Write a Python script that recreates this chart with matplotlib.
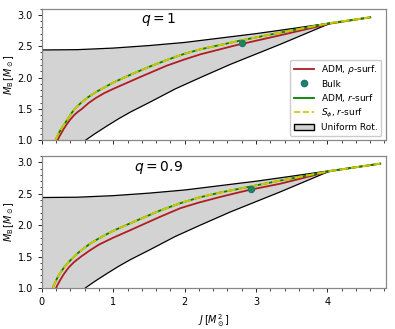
import numpy as np
import matplotlib
matplotlib.use("Agg")
import matplotlib.pyplot as plt
from matplotlib.patches import Patch
from matplotlib.lines import Line2D
from matplotlib.ticker import MultipleLocator

# uniform rotation region (same in both panels)
J_up = [0.0, 0.5, 1.0, 1.5, 2.0, 2.5, 3.0, 3.5, 4.05]
M_up = [2.44, 2.445, 2.47, 2.51, 2.56, 2.63, 2.70, 2.78, 2.87]
J_low = [0.61, 0.68, 0.75, 0.9, 1.07, 1.24, 1.5, 1.87, 2.22, 2.64, 3.34, 4.05]
M_low = [1.0, 1.055, 1.11, 1.22, 1.34, 1.45, 1.60, 1.82, 2.0, 2.21, 2.53, 2.87]

# q = 1
J_rho_1 = [0.22, 0.24, 0.27, 0.30, 0.34, 0.39, 0.45, 0.5, 0.56, 0.65, 0.75, 0.87, 1.0,
           1.2, 1.4, 1.75, 2.0, 2.22, 2.7, 3.4, 4.04, 4.6]
M_rho_1 = [1.0, 1.05, 1.11, 1.17, 1.24, 1.32, 1.40, 1.45, 1.5, 1.59, 1.67, 1.75, 1.82,
           1.92, 2.02, 2.19, 2.29, 2.37, 2.51, 2.69, 2.86, 2.96]
J_r_1 = [0.19, 0.21, 0.24, 0.27, 0.30, 0.34, 0.38, 0.42, 0.46, 0.55, 0.65, 0.76, 0.87,
         1.0, 1.25, 1.5, 1.75, 2.0, 2.22, 2.78, 3.4, 4.05, 4.6]
M_r_1 = [1.0, 1.05, 1.12, 1.18, 1.23, 1.30, 1.37, 1.44, 1.5, 1.6, 1.69, 1.77, 1.84,
         1.92, 2.05, 2.17, 2.28, 2.38, 2.45, 2.59, 2.73, 2.87, 2.96]
J_bulk_1, M_bulk_1 = 2.81, 2.557

# q = 0.9
J_rho_2 = [0.20, 0.22, 0.25, 0.28, 0.32, 0.38, 0.45, 0.55, 0.676, 0.8, 1.0, 1.2, 1.376,
           1.65, 1.94, 2.2, 2.5, 2.9, 3.34, 4.06, 4.74]
M_rho_2 = [1.0, 1.05, 1.11, 1.17, 1.24, 1.33, 1.41, 1.50, 1.60, 1.69, 1.80, 1.90, 1.99,
           2.13, 2.27, 2.36, 2.45, 2.56, 2.66, 2.866, 2.98]
J_r_2 = [0.154, 0.17, 0.2, 0.23, 0.27, 0.32, 0.4, 0.5, 0.6, 0.676, 0.8, 1.0, 1.2, 1.376,
         1.65, 1.94, 2.2, 2.5, 2.9, 3.34, 4.06, 4.74]
M_r_2 = [1.0, 1.05, 1.12, 1.19, 1.26, 1.34, 1.44, 1.55, 1.64, 1.705, 1.79, 1.91, 2.01, 2.097,
         2.23, 2.35, 2.44, 2.52, 2.61, 2.71, 2.866, 2.98]
J_bulk_2, M_bulk_2 = 2.93, 2.58

panels = [
    ("$q = 1$", J_rho_1, M_rho_1, J_r_1, M_r_1, J_bulk_1, M_bulk_1),
    ("$q = 0.9$", J_rho_2, M_rho_2, J_r_2, M_r_2, J_bulk_2, M_bulk_2),
]

red = "#b01c22"
bulk_face = "#1e8a4a"
bulk_edge = "#1b6f8a"

fig, axes = plt.subplots(2, 1, figsize=(3.95, 3.29), dpi=100, sharex=True)
fig.subplots_adjust(left=0.106, right=0.977, top=0.974, bottom=0.125, hspace=0.12)

for ax, (qlab, Jrho, Mrho, Jr, Mr, Jb, Mb) in zip(axes, panels):
    # region polygon built from the boundary points
    poly_J = J_up + J_low[::-1] + [0.0]
    poly_M = M_up + M_low[::-1] + [1.0]
    ax.fill(poly_J, poly_M, facecolor="#d3d3d3", edgecolor="none", zorder=1)
    ax.plot(J_up, M_up, color="black", lw=0.9, zorder=2)
    ax.plot(J_low, M_low, color="black", lw=0.9, zorder=2)

    ax.plot(Jrho, Mrho, color=red, lw=1.3, zorder=3)
    ax.plot(Jr, Mr, color="green", lw=1.3, zorder=4)
    ax.plot(Jr, Mr, color="#c8c800", lw=1.5, ls=(0, (4, 1.5)), zorder=5)
    ax.plot([Jb], [Mb], "o", ms=4.5, mfc=bulk_face, mec=bulk_edge, mew=0.8, zorder=6)

    ax.text(0.34, 0.915, qlab, transform=ax.transAxes, ha="center", va="center", fontsize=10)

    ax.set_xlim(0, 4.82)
    ax.set_ylim(1.0, 3.1)
    ax.xaxis.set_major_locator(MultipleLocator(1))
    ax.xaxis.set_minor_locator(MultipleLocator(0.2))
    ax.yaxis.set_major_locator(MultipleLocator(0.5))
    ax.yaxis.set_minor_locator(MultipleLocator(0.1))
    ax.tick_params(labelsize=7, length=3, width=0.6)
    ax.tick_params(which="minor", length=1.8, width=0.5)
    for sp in ax.spines.values():
        sp.set_color("#888888")
        sp.set_linewidth(0.9)
    ax.set_ylabel(r"$M_{\rm B}\,[M_\odot]$", fontsize=7)
    ax.yaxis.set_label_coords(-0.075, 0.5)

axes[1].set_xlabel(r"$J\,[M_\odot^2]$", fontsize=7)

handles = [
    Line2D([], [], color=red, lw=1.3),
    Line2D([], [], ls="none", marker="o", ms=4.5, mfc=bulk_face, mec=bulk_edge),
    Line2D([], [], color="green", lw=1.3),
    Line2D([], [], color="#c8c800", lw=1.2, ls="--"),
    Patch(facecolor="#d3d3d3", edgecolor="black"),
]
labels = ["ADM, $\\rho$-surf.", "Bulk", "ADM, $r$-surf", "$S_\\phi$, $r$-surf", "Uniform Rot."]
axes[0].legend(handles, labels, loc="lower right", fontsize=6.5, framealpha=1,
               handlelength=2.2, borderpad=0.4, labelspacing=0.35)

fig.savefig("out.png", dpi=100)
